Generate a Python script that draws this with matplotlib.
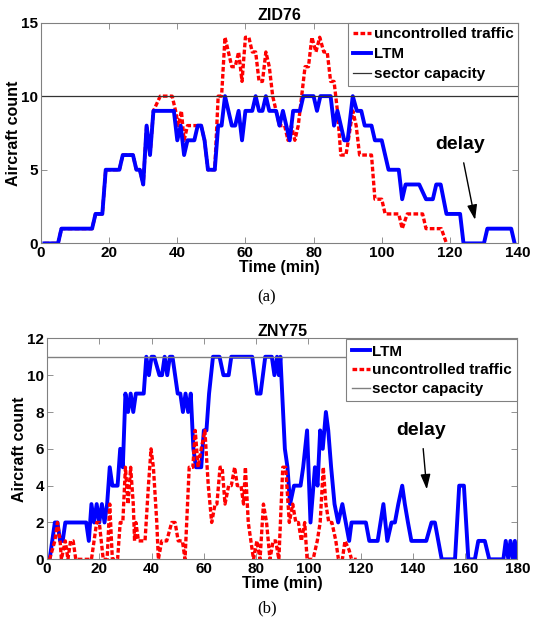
import matplotlib
matplotlib.use("Agg")
import matplotlib.pyplot as plt

plt.rcParams['font.family'] = ['Liberation Sans', 'DejaVu Sans']
plt.rcParams['font.weight'] = 'bold'

# ---- (a) ZID76 ----
ltm_a_t = [1, 5, 6, 15, 16, 18, 19, 23, 24, 27, 28, 29, 30, 31, 32, 33, 39, 40, 41, 42,
           43, 45, 46, 47, 48, 49, 51, 52, 53, 54, 55, 56, 57, 58, 59, 60, 62, 63, 64, 65,
           66, 67, 69, 70, 71, 72, 73, 74, 76, 77, 80, 81, 82, 85, 86, 87, 88, 89, 90, 91.5,
           92.7, 94, 95, 97, 98, 100, 101, 102, 105, 106, 107, 111, 113, 115, 116, 117.3, 119, 123,
           124, 130, 131, 138, 139]
ltm_a_v = [0, 0, 1, 1, 2, 2, 5, 5, 6, 6, 5, 5, 4, 8, 6, 9, 9, 7, 8, 6,
           7, 7, 8, 8, 7, 5, 5, 8, 8, 10, 9, 8, 8, 9, 7, 9, 9, 10, 9, 9,
           10, 9, 9, 8, 9, 8, 7, 9, 9, 10, 10, 9, 10, 10, 8, 9, 8, 7, 7, 10,
           9, 9, 8, 8, 7, 7, 6, 5, 5, 3, 4, 4, 3, 3, 4, 4, 2, 2,
           0, 0, 1, 1, 0]

unc_a_t = [1, 5, 6, 15, 16, 18, 19, 23, 24, 27, 28, 29, 30, 31, 32, 33, 35, 38.5, 39.5, 40.3,
           41.2, 42, 43, 46.5, 47, 48, 49, 51, 52, 53, 54, 55, 56, 57, 58, 59, 60, 61,
           62, 63, 64, 65, 66, 67, 68, 69, 70, 71.5, 72.5, 73.5, 74.5, 75.5, 76.5, 77.5, 78.5, 79.5,
           80.7, 81.8, 83, 84, 85, 86, 87, 88, 89.5, 90.2, 91.5, 92.5, 93.5, 97, 98, 100,
           101, 105, 106, 107.5, 112, 113, 117.5, 119]
unc_a_v = [0, 0, 1, 1, 2, 2, 5, 5, 6, 6, 5, 5, 4, 8, 6, 9, 10, 10, 9, 8,
           9, 7, 8, 8, 8, 7, 5, 5, 10, 10, 14, 13, 12, 12, 13, 11, 14, 14,
           13, 13, 11, 11, 13, 12, 10, 9, 8, 8, 7, 8, 7, 8, 10, 12, 12, 14,
           13, 14, 13, 13, 11, 11, 9, 6, 6, 7, 9, 8, 6, 6, 3, 3,
           2, 2, 1, 2, 2, 1, 1, 0]

cap_a = 10

# ---- (b) ZNY75 ----
ltm_b_t = [1, 3, 4, 5, 6, 7, 15, 16, 17, 18, 19, 20, 21, 22, 23, 24, 25, 27, 28, 29,
           30, 31, 32, 33, 34, 37, 38, 39, 40, 41, 43, 44, 45, 46, 47, 48, 50, 51, 52, 53,
           54, 55, 56, 57, 59, 60, 61, 62, 63.5, 66, 67.5, 69.5, 70.5, 78.5, 80.3, 81.7, 83.5, 86, 87, 88,
           88.7, 89.3, 91, 92, 93, 94.5, 97, 98, 99.5, 100.8, 102.5, 103.5, 104.5, 105.5, 106.7, 107.6, 108.7, 110, 111.4, 113,
           114.3, 115.6, 116.5, 122, 123.3, 126.5, 128.7, 130.2, 131.8, 133.1, 134.4, 135.9, 136.9, 138.1, 139.4, 145.1, 147.1, 148.4,
           149.7, 151, 156.1, 157.7, 159.5, 161.2, 163.7, 165, 167.5, 169.2, 174.6, 175.5, 176.5, 177.3, 178.3, 179, 179.8]
ltm_b_v = [0, 2, 2, 1, 1, 2, 2, 1, 3, 2, 3, 2, 3, 2, 3, 5, 4, 4, 6, 5,
           9, 8, 9, 8, 9, 9, 11, 10, 11, 11, 10, 10, 11, 10, 11, 11, 9, 9, 8, 9,
           8, 9, 6, 5, 5, 7, 7, 9, 11, 11, 10, 10, 11, 11, 9, 9, 11, 11, 10, 11,
           10, 11, 6, 5, 3, 4, 4, 5, 7, 2, 5, 4, 7, 6, 8, 7, 5, 3, 2, 3,
           2, 1, 2, 2, 1, 1, 3, 1, 2, 2, 3, 4, 3, 2, 1, 1, 2, 2,
           1, 0, 0, 4, 4, 0, 0, 1, 1, 0, 0, 1, 0, 1, 0, 1, 0]

unc_b_t = [1, 3, 4, 5, 5.5, 7, 8, 9, 10, 11, 17, 18, 19, 20, 21.5, 23, 24, 25, 27, 28,
           29, 30, 31, 32, 33, 33.5, 34, 35, 37.5, 38.8, 39.8, 40.7, 42, 42.6, 43.9, 45.8, 47.7, 49, 50.2, 51.8,
           52.8, 54.4, 55.8, 56.7, 57.8, 59, 60.4, 61.7, 63, 64.3, 65, 66.2, 67, 68.1, 69.5, 70.5, 71.8, 72.8, 74.2, 75.2,
           75.9, 77, 78, 79, 80.3, 81.5, 82.8, 84, 85.3, 86.5, 87.5, 88.7, 90.2, 91.3, 92.7, 94, 95.2, 96.2, 97.3, 98.6,
           99.5, 101.8, 103.4, 104.5, 105.7, 106.7, 107.8, 109, 110.5, 111.5, 113, 114, 115.6, 116.5, 118.5]
unc_b_v = [0, 1, 2, 1, 0, 1, 0, 1, 1, 0, 0, 1, 2, 2, 0, 0, 3, 0, 0, 2,
           2, 5, 3, 5, 3, 1, 2, 1, 1, 4, 6, 5, 2, 0, 1, 1, 2, 2, 1, 1,
           0, 5, 5, 7, 5, 6, 7, 4, 2, 3, 3, 5, 5, 3, 4, 4, 5, 4, 4, 3,
           5, 2, 1, 0, 1, 0, 3, 2, 0, 1, 1, 0, 5, 5, 2, 3, 2, 2, 1, 2,
           0, 0, 1, 2, 5, 3, 2, 2, 1, 0, 0, 1, 0.5, 0, 0]

cap_b = 11

blue = '#0000ff'
red = '#ff0000'
dash = (1.4, 0.7)
tick_fs = 11
label_fs = 11.5
arrow_style = '-|>,head_length=0.9,head_width=0.3'


def style_axes(ax, xmax, ymax, yticks):
    ax.set_xlim(0, xmax)
    ax.set_ylim(0, ymax)
    ax.set_xticks(range(0, xmax + 1, 20))
    ax.set_yticks(yticks)
    ax.tick_params(direction='in', top=True, right=True, length=4, width=0.6,
                   color='#808080', labelsize=tick_fs, pad=2)
    for s in ax.spines.values():
        s.set_color('#808080')
        s.set_linewidth(0.8)
    ax.set_xlabel('Time (min)', fontsize=label_fs, fontweight='bold', labelpad=0)
    ax.set_ylabel('Aircraft count', fontsize=label_fs, fontweight='bold', labelpad=0)


fig = plt.figure(figsize=(5.33, 6.31), dpi=100)

# top chart
ax1 = fig.add_axes([0.0769, 0.6143, 0.895, 0.350])
ax1.plot(unc_a_t, unc_a_v, color=red, lw=2.4, linestyle=(0, dash), label='uncontrolled traffic')
ax1.plot(ltm_a_t, ltm_a_v, color=blue, lw=2.8, label='LTM')
ax1.axhline(cap_a, color='#333333', lw=0.9, label='sector capacity')
style_axes(ax1, 140, 15, [0, 5, 10, 15])
ax1.set_title('ZID76', fontsize=label_fs, fontweight='bold', pad=2)
leg = ax1.legend(loc='upper right', borderaxespad=0, fancybox=False, framealpha=1,
                 edgecolor='#808080', fontsize=11, handlelength=1.2, handletextpad=0.15,
                 labelspacing=0.4, borderpad=0.3)
leg.get_frame().set_linewidth(0.8)
ax1.annotate('delay', xy=(127.4, 1.6), xytext=(123, 6.7), ha='center', va='center',
             fontsize=14, fontweight='bold',
             arrowprops=dict(arrowstyle=arrow_style, color='k', lw=1, mutation_scale=10,
                             shrinkA=5, shrinkB=0))

# bottom chart
ax2 = fig.add_axes([0.0882, 0.1136, 0.8827, 0.3502])
ax2.plot(ltm_b_t, ltm_b_v, color=blue, lw=2.8, label='LTM')
ax2.plot(unc_b_t, unc_b_v, color=red, lw=2.4, linestyle=(0, dash), label='uncontrolled traffic')
ax2.axhline(cap_b, color='#808080', lw=1.0, label='sector capacity')
style_axes(ax2, 180, 12, [0, 2, 4, 6, 8, 10, 12])
ax2.set_title('ZNY75', fontsize=label_fs, fontweight='bold', pad=2)
leg = ax2.legend(loc='upper right', borderaxespad=0, fancybox=False, framealpha=1,
                 edgecolor='#808080', fontsize=11, handlelength=1.2, handletextpad=0.15,
                 labelspacing=0.3, borderpad=0.35, bbox_to_anchor=(1.0, 0.995))
leg.get_frame().set_linewidth(0.8)
ax2.annotate('delay', xy=(145.3, 3.8), xytext=(143.3, 7.0), ha='center', va='center',
             fontsize=14, fontweight='bold',
             arrowprops=dict(arrowstyle=arrow_style, color='k', lw=1, mutation_scale=10,
                             shrinkA=5, shrinkB=0))

# captions
fig.text(0.501, 1 - 297 / 631, '(a)', ha='center', va='center', fontsize=12,
         family='Liberation Serif', fontweight='normal')
fig.text(0.501, 1 - 608 / 631, '(b)', ha='center', va='center', fontsize=12,
         family='Liberation Serif', fontweight='normal')

fig.savefig('out.png', dpi=100)
